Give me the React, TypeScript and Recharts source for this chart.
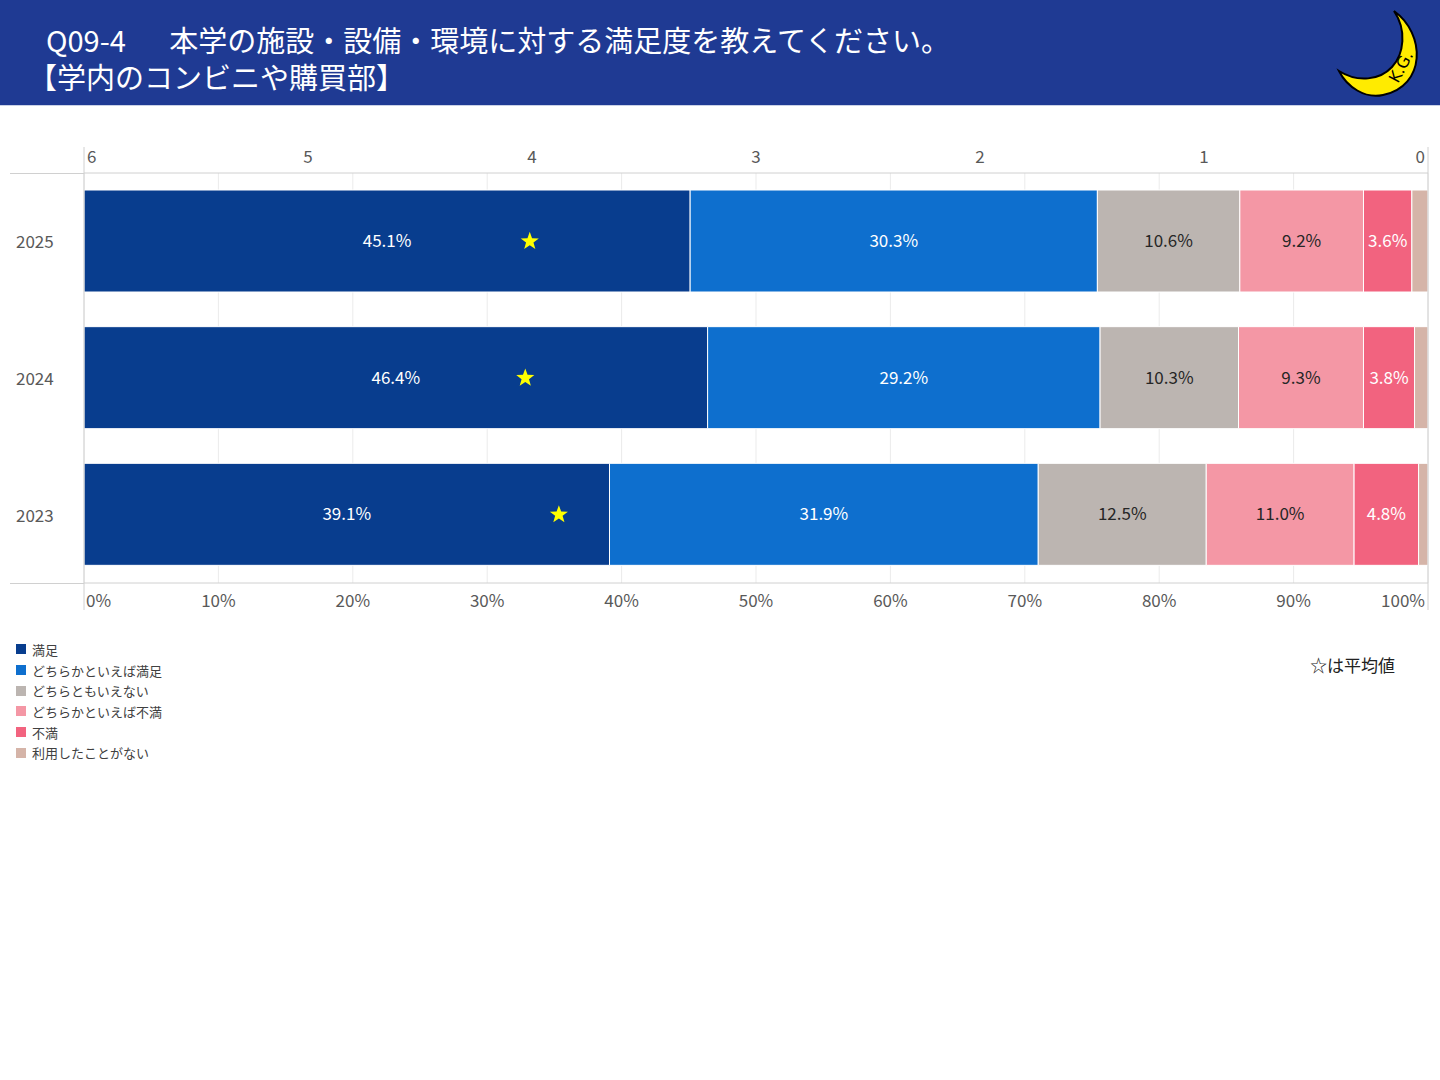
import React from 'react';
import { ComposedChart, Bar, Line, XAxis, YAxis, CartesianGrid, LabelList, ReferenceLine } from 'recharts';

const years = ['2025', '2024', '2023'];
const seriesNames = ['満足', 'どちらかといえば満足', 'どちらともいえない', 'どちらかといえば不満', '不満', '利用したことがない'];
const seriesColors = ['#083D8E', '#0E6FCE', '#BCB5B1', '#F497A5', '#F2637F', '#D5B4A8'];
const labelColors = ['#FFFFFF', '#FFFFFF', '#262626', '#262626', '#FFFFFF', ''];
const satisfied = [45.1, 46.4, 39.1];
const somewhatSatisfied = [30.3, 29.2, 31.9];
const neutral = [10.6, 10.3, 12.5];
const somewhatDissatisfied = [9.2, 9.3, 11.0];
const dissatisfied = [3.6, 3.8, 4.8];
const neverUsed = [1.2, 1.0, 0.7];
const averages = [4.01, 4.03, 3.88];
const pctTicks = [0, 10, 20, 30, 40, 50, 60, 70, 80, 90, 100];
const avgTicks = [0, 1, 2, 3, 4, 5, 6];

const seriesValues = [satisfied, somewhatSatisfied, neutral, somewhatDissatisfied, dissatisfied, neverUsed];

const data = years.map((year, i) => {
  const row: any = { year, avg: averages[i] };
  seriesValues.forEach((vals, s) => {
    row['s' + s] = vals[i];
  });
  return row;
});

const FONT = '"Noto Sans CJK JP", "Noto Sans", sans-serif';
const AXIS_GRAY = '#D0D0D0';
const TEXT_GRAY = '#595959';

const TopTick = (props: any) => {
  const { x, y, payload } = props;
  const v = payload.value;
  const isLeft = v === 6;
  const isRight = v === 0;
  const anchor = isLeft ? 'start' : isRight ? 'end' : 'middle';
  const dx = isLeft ? 3 : isRight ? -3 : 0;
  return (
    <g>
      {(isLeft || isRight) && <line x1={x} x2={x} y1={y + 10} y2={y - 16} stroke={AXIS_GRAY} strokeWidth={1} />}
      <text x={x + dx} y={y} textAnchor={anchor} fill={TEXT_GRAY} fontSize={17} fontFamily={FONT}>
        {v}
      </text>
    </g>
  );
};

const BottomTick = (props: any) => {
  const { x, y, payload } = props;
  const v = payload.value;
  const isLeft = v === 0;
  const isRight = v === 100;
  const anchor = isLeft ? 'start' : isRight ? 'end' : 'middle';
  const dx = isLeft ? 2 : isRight ? -3 : 0;
  return (
    <g>
      {(isLeft || isRight) && <line x1={x} x2={x} y1={y - 10} y2={y + 17} stroke={AXIS_GRAY} strokeWidth={1} />}
      <text x={x + dx} y={y + 14} textAnchor={anchor} fill={TEXT_GRAY} fontSize={17} fontFamily={FONT}>
        {v}%
      </text>
    </g>
  );
};

const YearTick = (props: any) => {
  const { y, payload } = props;
  return (
    <text x={16} y={y + 7} textAnchor="start" fill={TEXT_GRAY} fontSize={17} fontFamily={FONT}>
      {payload.value}
    </text>
  );
};

const Star = (props: any) => {
  const { cx, cy, index } = props;
  if (cx == null || cy == null) return null;
  const pts: string[] = [];
  for (let k = 0; k < 10; k++) {
    const r = k % 2 === 0 ? 9.5 : 3.9;
    const a = -Math.PI / 2 + (k * Math.PI) / 5;
    pts.push(`${cx + r * Math.cos(a)},${cy + r * Math.sin(a)}`);
  }
  return <polygon key={'star' + index} points={pts.join(' ')} fill="#FFFF00" />;
};

const Moon = () => (
  <svg width={100} height={100} style={{ position: 'absolute', left: 1330, top: 4 }}>
    <path
      d="M64 7 C 96 30, 96 82, 53 91 C 35 95, 17 83, 9 67 C 28 79, 50 76, 62 63 C 74 50, 77 26, 64 7 Z"
      fill="#FFEB00"
      stroke="#000"
      strokeWidth={2}
    />
    <text
      x={68}
      y={80}
      fontSize={16}
      fontFamily="DejaVu Sans, sans-serif"
      fill="#000"
      transform="rotate(-62 68 80)"
    >
      K.G.
    </text>
  </svg>
);

export default function App() {
  return (
    <div
      style={{
        position: 'absolute',
        left: 0,
        top: 0,
        width: 1440,
        height: 1080,
        background: '#fff',
        overflow: 'hidden',
        fontFamily: FONT,
      }}
    >
      <div
        style={{
          position: 'absolute',
          left: 0,
          top: 0,
          width: 1440,
          height: 105,
          background: '#1F3A93',
          borderBottom: '1px solid #C9D1E6',
        }}
      />
      <div
        style={{
          position: 'absolute',
          left: 28,
          top: 21,
          width: 1200,
          color: '#fff',
          fontSize: 29,
          lineHeight: '37px',
          textIndent: 18,
          whiteSpace: 'pre',
        }}
      >
        {'Q09-4\u2002\u3000本学の施設・設備・環境に対する満足度を教えてください。\n【学内のコンビニや購買部】'}
      </div>
      <Moon />

      <div style={{ position: 'absolute', left: 0, top: 0 }}>
        <ComposedChart
          width={1440}
          height={640}
          data={data}
          layout="vertical"
          margin={{ top: 147, right: 12, bottom: 30, left: 10 }}
        >
          <CartesianGrid xAxisId="pct" horizontal={false} vertical={true} stroke="#EBEBEB" />
          <XAxis
            xAxisId="avg"
            type="number"
            orientation="top"
            domain={[0, 6]}
            reversed
            ticks={avgTicks}
            allowDataOverflow
            height={26}
            tickSize={0}
            tickMargin={10}
            tickLine={false}
            axisLine={{ stroke: AXIS_GRAY }}
            tick={<TopTick />}
            interval={0}
          />
          <XAxis
            xAxisId="pct"
            type="number"
            orientation="bottom"
            domain={[0, 100]}
            ticks={pctTicks}
            allowDataOverflow
            height={27}
            tickSize={0}
            tickMargin={10}
            tickLine={false}
            axisLine={{ stroke: AXIS_GRAY }}
            tick={<BottomTick />}
            interval={0}
          />
          <YAxis
            type="category"
            dataKey="year"
            width={74}
            axisLine={false}
            tickLine={false}
            tick={<YearTick />}
            interval={0}
          />
          {seriesNames.map((name, s) => (
            <Bar
              key={name}
              name={name}
              xAxisId="pct"
              dataKey={'s' + s}
              stackId="a"
              fill={seriesColors[s]}
              stroke="#FFFFFF"
              strokeWidth={1}
              barSize={102}
              isAnimationActive={false}
            >
              {labelColors[s] ? (
                <LabelList
                  dataKey={'s' + s}
                  position="center"
                  formatter={(v: any) => Number(v).toFixed(1) + '%'}
                  fill={labelColors[s]}
                  fontSize={17}
                  fontFamily={FONT}
                  stroke="none"
                />
              ) : null}
            </Bar>
          ))}
          <ReferenceLine xAxisId="pct" x={0} stroke={AXIS_GRAY} />
          <ReferenceLine xAxisId="pct" x={100} stroke={AXIS_GRAY} />
          <Line
            xAxisId="avg"
            dataKey="avg"
            stroke="none"
            legendType="none"
            dot={(p: any) => <Star {...p} key={'st' + p.index} />}
            activeDot={false}
            isAnimationActive={false}
          />
        </ComposedChart>
      </div>

      <div style={{ position: 'absolute', left: 10, top: 173, width: 74, height: 1, background: AXIS_GRAY }} />
      <div style={{ position: 'absolute', left: 10, top: 583, width: 74, height: 1, background: AXIS_GRAY }} />

      <div style={{ position: 'absolute', left: 16, top: 639 }}>
        {seriesNames.map((name, s) => (
          <div key={name} style={{ display: 'flex', alignItems: 'center', height: 20.7, fontSize: 13, color: '#404040', whiteSpace: 'nowrap' }}>
            <span style={{ display: 'inline-block', width: 10, height: 10, background: seriesColors[s], marginRight: 6 }} />
            {name}
          </div>
        ))}
      </div>

      <div style={{ position: 'absolute', left: 1310, top: 653, fontSize: 17, color: '#222', whiteSpace: 'nowrap', lineHeight: '24px' }}>
        ☆は平均値
      </div>
    </div>
  );
}
